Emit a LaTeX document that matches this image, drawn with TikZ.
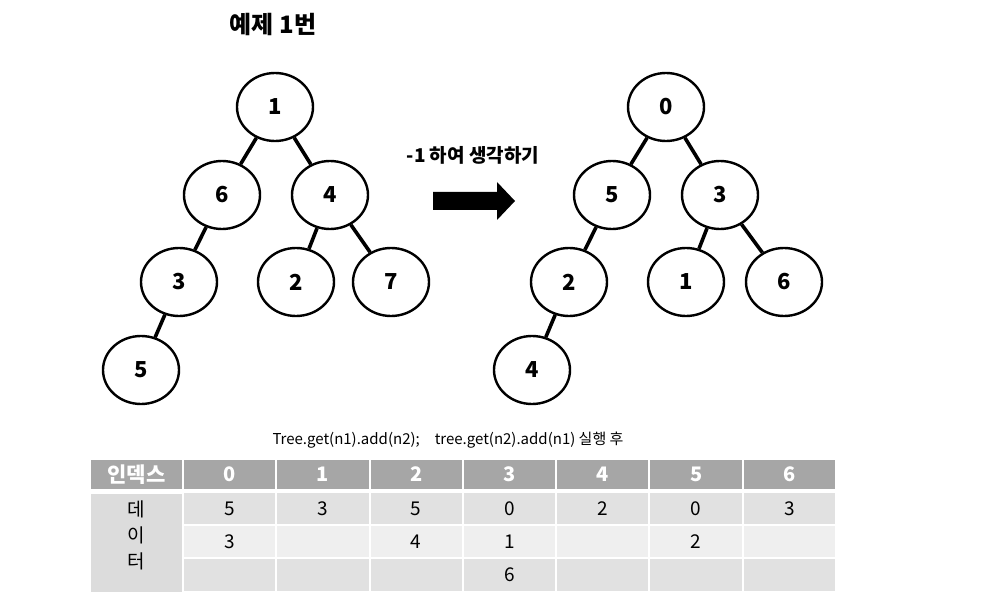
\documentclass[tikz,border=0pt]{standalone}
\usepackage{fontspec}
\setmainfont{Noto Sans CJK KR}
\usepackage{tikz}
\usetikzlibrary{shapes.geometric}

\definecolor{headgray}{HTML}{A6A6A6}
\definecolor{rowdark}{HTML}{E1E1E1}
\definecolor{rowlight}{HTML}{EFEFEF}
\definecolor{colgray}{HTML}{DCDCDC}

\begin{document}
\begin{tikzpicture}[
  x=1pt, y=-1pt,
  vert/.style={draw, ellipse, line width=2.4pt, minimum width=76pt, minimum height=68pt,
               inner sep=0pt, font=\fontsize{22}{26}\selectfont\bfseries},
  edge/.style={line width=3.6pt},
  head/.style={fill=headgray, draw=white, line width=2pt, minimum width=93.3pt,
               minimum height=31pt, inner sep=0pt, text=white,
               font=\fontsize{20}{23}\selectfont\bfseries},
  cell/.style={draw=white, line width=2pt, minimum width=93.3pt,
               minimum height=33.3pt, inner sep=0pt,
               font=\fontsize{19}{22}\selectfont}
]
\useasboundingbox (0,0) rectangle (999,612);

% title
\node[font=\fontsize{24}{28}\selectfont\bfseries] (title) at (273,25) {예제 1번};

% original tree
\node[vert] (a1) at (275,107) {1};
\node[vert] (a6) at (222,195) {6};
\node[vert] (a4) at (330,195) {4};
\node[vert] (a3) at (179,282) {3};
\node[vert] (a2) at (296,282) {2};
\node[vert] (a7) at (391,282) {7};
\node[vert] (a5) at (141,370) {5};

\draw[edge] (a1) -- (a6);
\draw[edge] (a1) -- (a4);
\draw[edge] (a6) -- (a3);
\draw[edge] (a4) -- (a2);
\draw[edge] (a4) -- (a7);
\draw[edge] (a3) -- (a5);

% arrow in the middle
\node[font=\fontsize{19}{22}\selectfont\bfseries] (shift) at (473,155) {-1 하여 생각하기};
\fill (433,192) -- (497,192) -- (497,182) -- (515,201) -- (497,220) -- (497,210)
      -- (433,210) -- cycle;

% shifted tree
\node[vert] (b0) at (666,107) {0};
\node[vert] (b5) at (612,195) {5};
\node[vert] (b3) at (720,195) {3};
\node[vert] (b2) at (569,282) {2};
\node[vert] (b1) at (686,282) {1};
\node[vert] (b6) at (784,282) {6};
\node[vert] (b4) at (532,370) {4};

\draw[edge] (b0) -- (b5);
\draw[edge] (b0) -- (b3);
\draw[edge] (b5) -- (b2);
\draw[edge] (b3) -- (b1);
\draw[edge] (b3) -- (b6);
\draw[edge] (b2) -- (b4);

% caption
\node[font=\fontsize{15}{18}\selectfont] (cap) at (448,440)
  {Tree.get(n1).add(n2);\quad tree.get(n2).add(n1) 실행 후};

% table
\node[head, minimum width=93pt, font=\fontsize{21}{24}\selectfont\bfseries] (hidx) at (136.5,474.5) {인덱스};
\node[cell, fill=colgray, minimum width=93pt, minimum height=100pt, anchor=north]
  (data) at (136.5,491.5) {};
\node[font=\fontsize{19}{26}\selectfont, align=center] (datatxt) at (136.5,535) {데\\이\\터};
\foreach \i/\a/\b/\c in {0/5/3/{},1/3/{}/{},2/5/4/{},3/0/1/6,4/2/{}/{},5/0/2/{},6/3/{}/{}}{
  \node[head] (h\i) at ({229.6+93.3*\i},474.5) {\i};
  \node[cell, fill=rowdark]  (r\i a) at ({229.6+93.3*\i},508.5) {\a};
  \node[cell, fill=rowlight] (r\i b) at ({229.6+93.3*\i},541.8) {\b};
  \node[cell, fill=rowdark]  (r\i c) at ({229.6+93.3*\i},575.1) {\c};
}
\end{tikzpicture}
\end{document}
